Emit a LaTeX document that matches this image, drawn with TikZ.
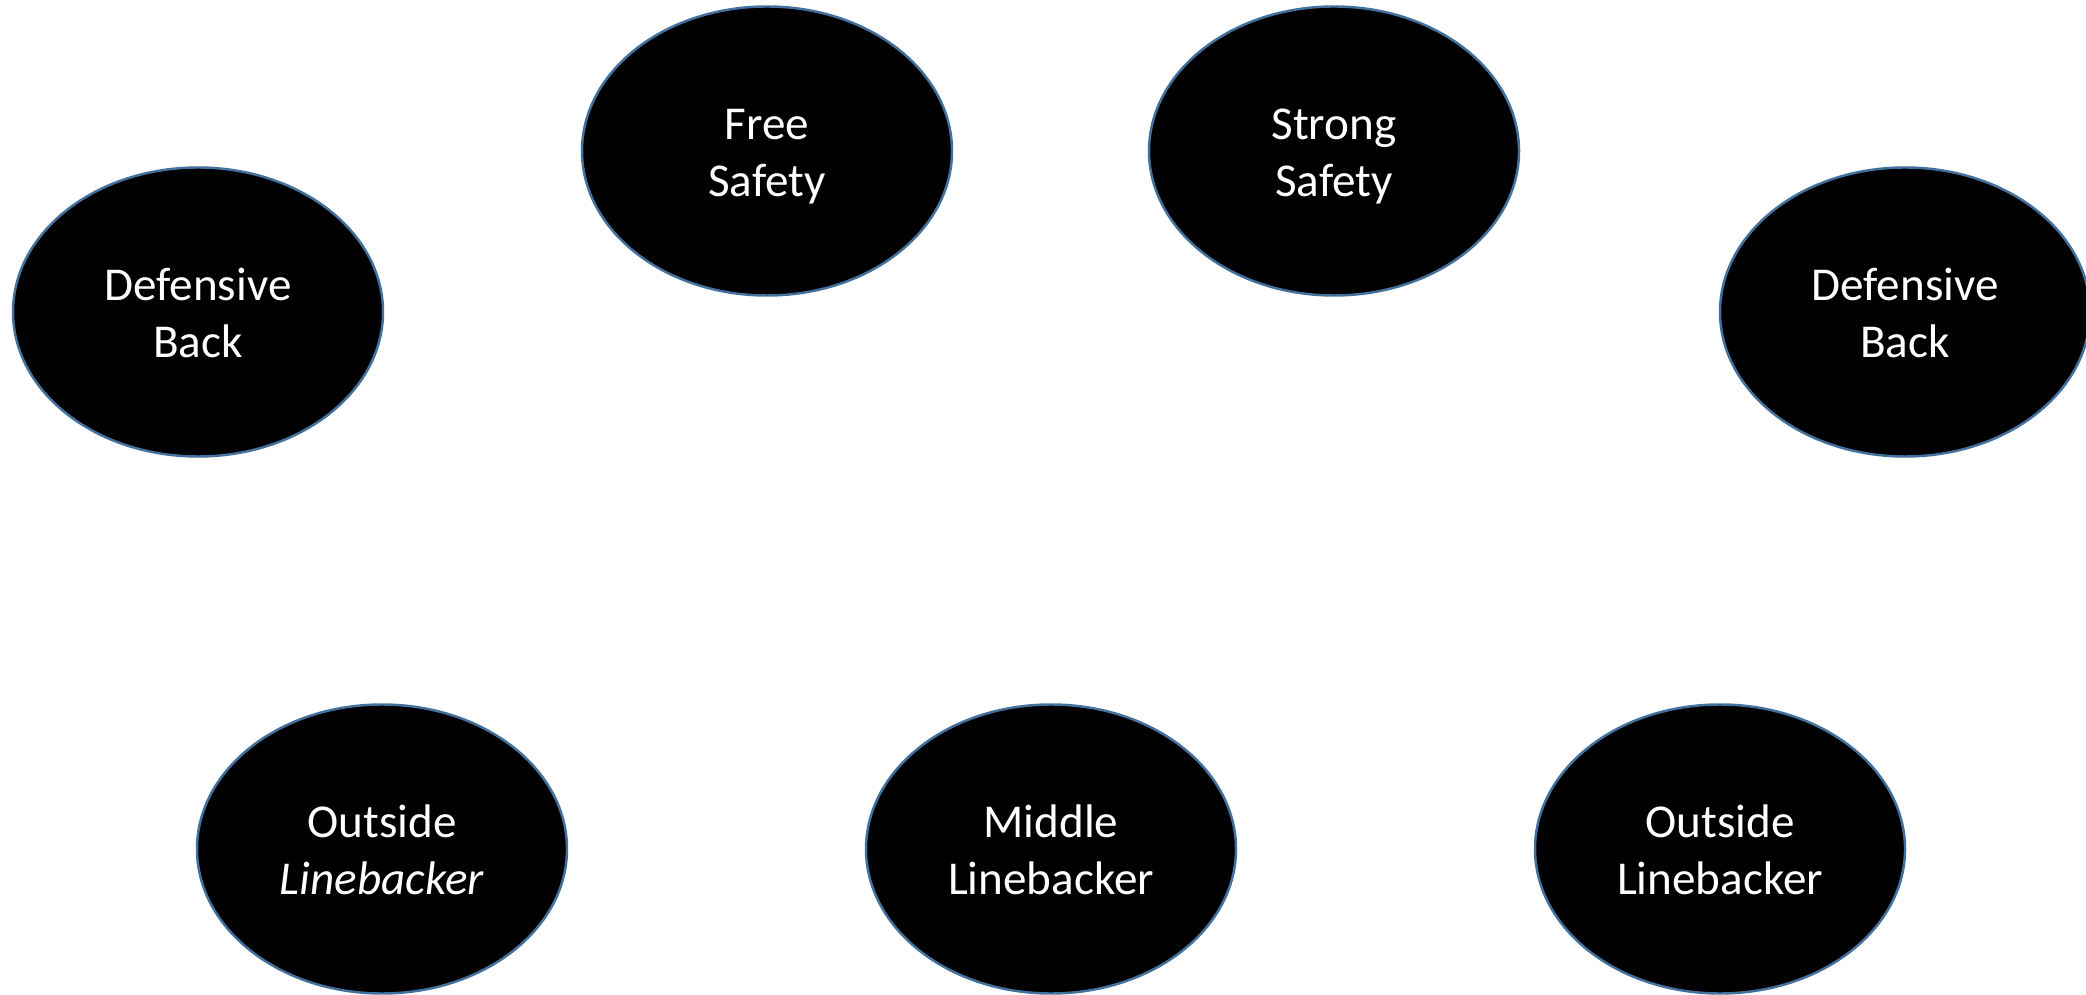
\documentclass[tikz,border=0pt]{standalone}
\usepackage{fontspec}
\setmainfont{Carlito}
\usetikzlibrary{shapes.geometric}
\definecolor{edgeblue}{HTML}{41719C}
\newlength{\pxu}
\setlength{\pxu}{0.01cm}
\newcommand{\twolines}[2]{\rule{0pt}{14pt}#1\\#2\rule[-4.6pt]{0pt}{4.6pt}}
\tikzset{
  player/.style={ellipse, draw=edgeblue, line width=0.7pt, fill=black,
    minimum width=370\pxu, minimum height=289\pxu, inner sep=0pt,
    text=white, align=center, font=\fontsize{13.4pt}{16.2pt}\selectfont}
}
\begin{document}
\begin{tikzpicture}[x=0.01cm,y=-0.01cm]
\useasboundingbox (0,0) rectangle (2086,995);
\node[player] (dbl) at (198,312) {\twolines{Defensive}{Back}};
\node[player] (fs) at (767,151) {\twolines{Free}{Safety}};
\node[player] (ss) at (1334,151) {\twolines{Strong}{Safety}};
\node[player] (dbr) at (1905,312) {\twolines{Defensive}{Back}};
\node[player] (olbl) at (382,849) {\twolines{Outside}{\textit{Linebacker}}};
\node[player] (mlb) at (1051,849) {\twolines{Middle}{Linebacker}};
\node[player] (olbr) at (1720,849) {\twolines{Outside}{Linebacker}};
\end{tikzpicture}
\end{document}
